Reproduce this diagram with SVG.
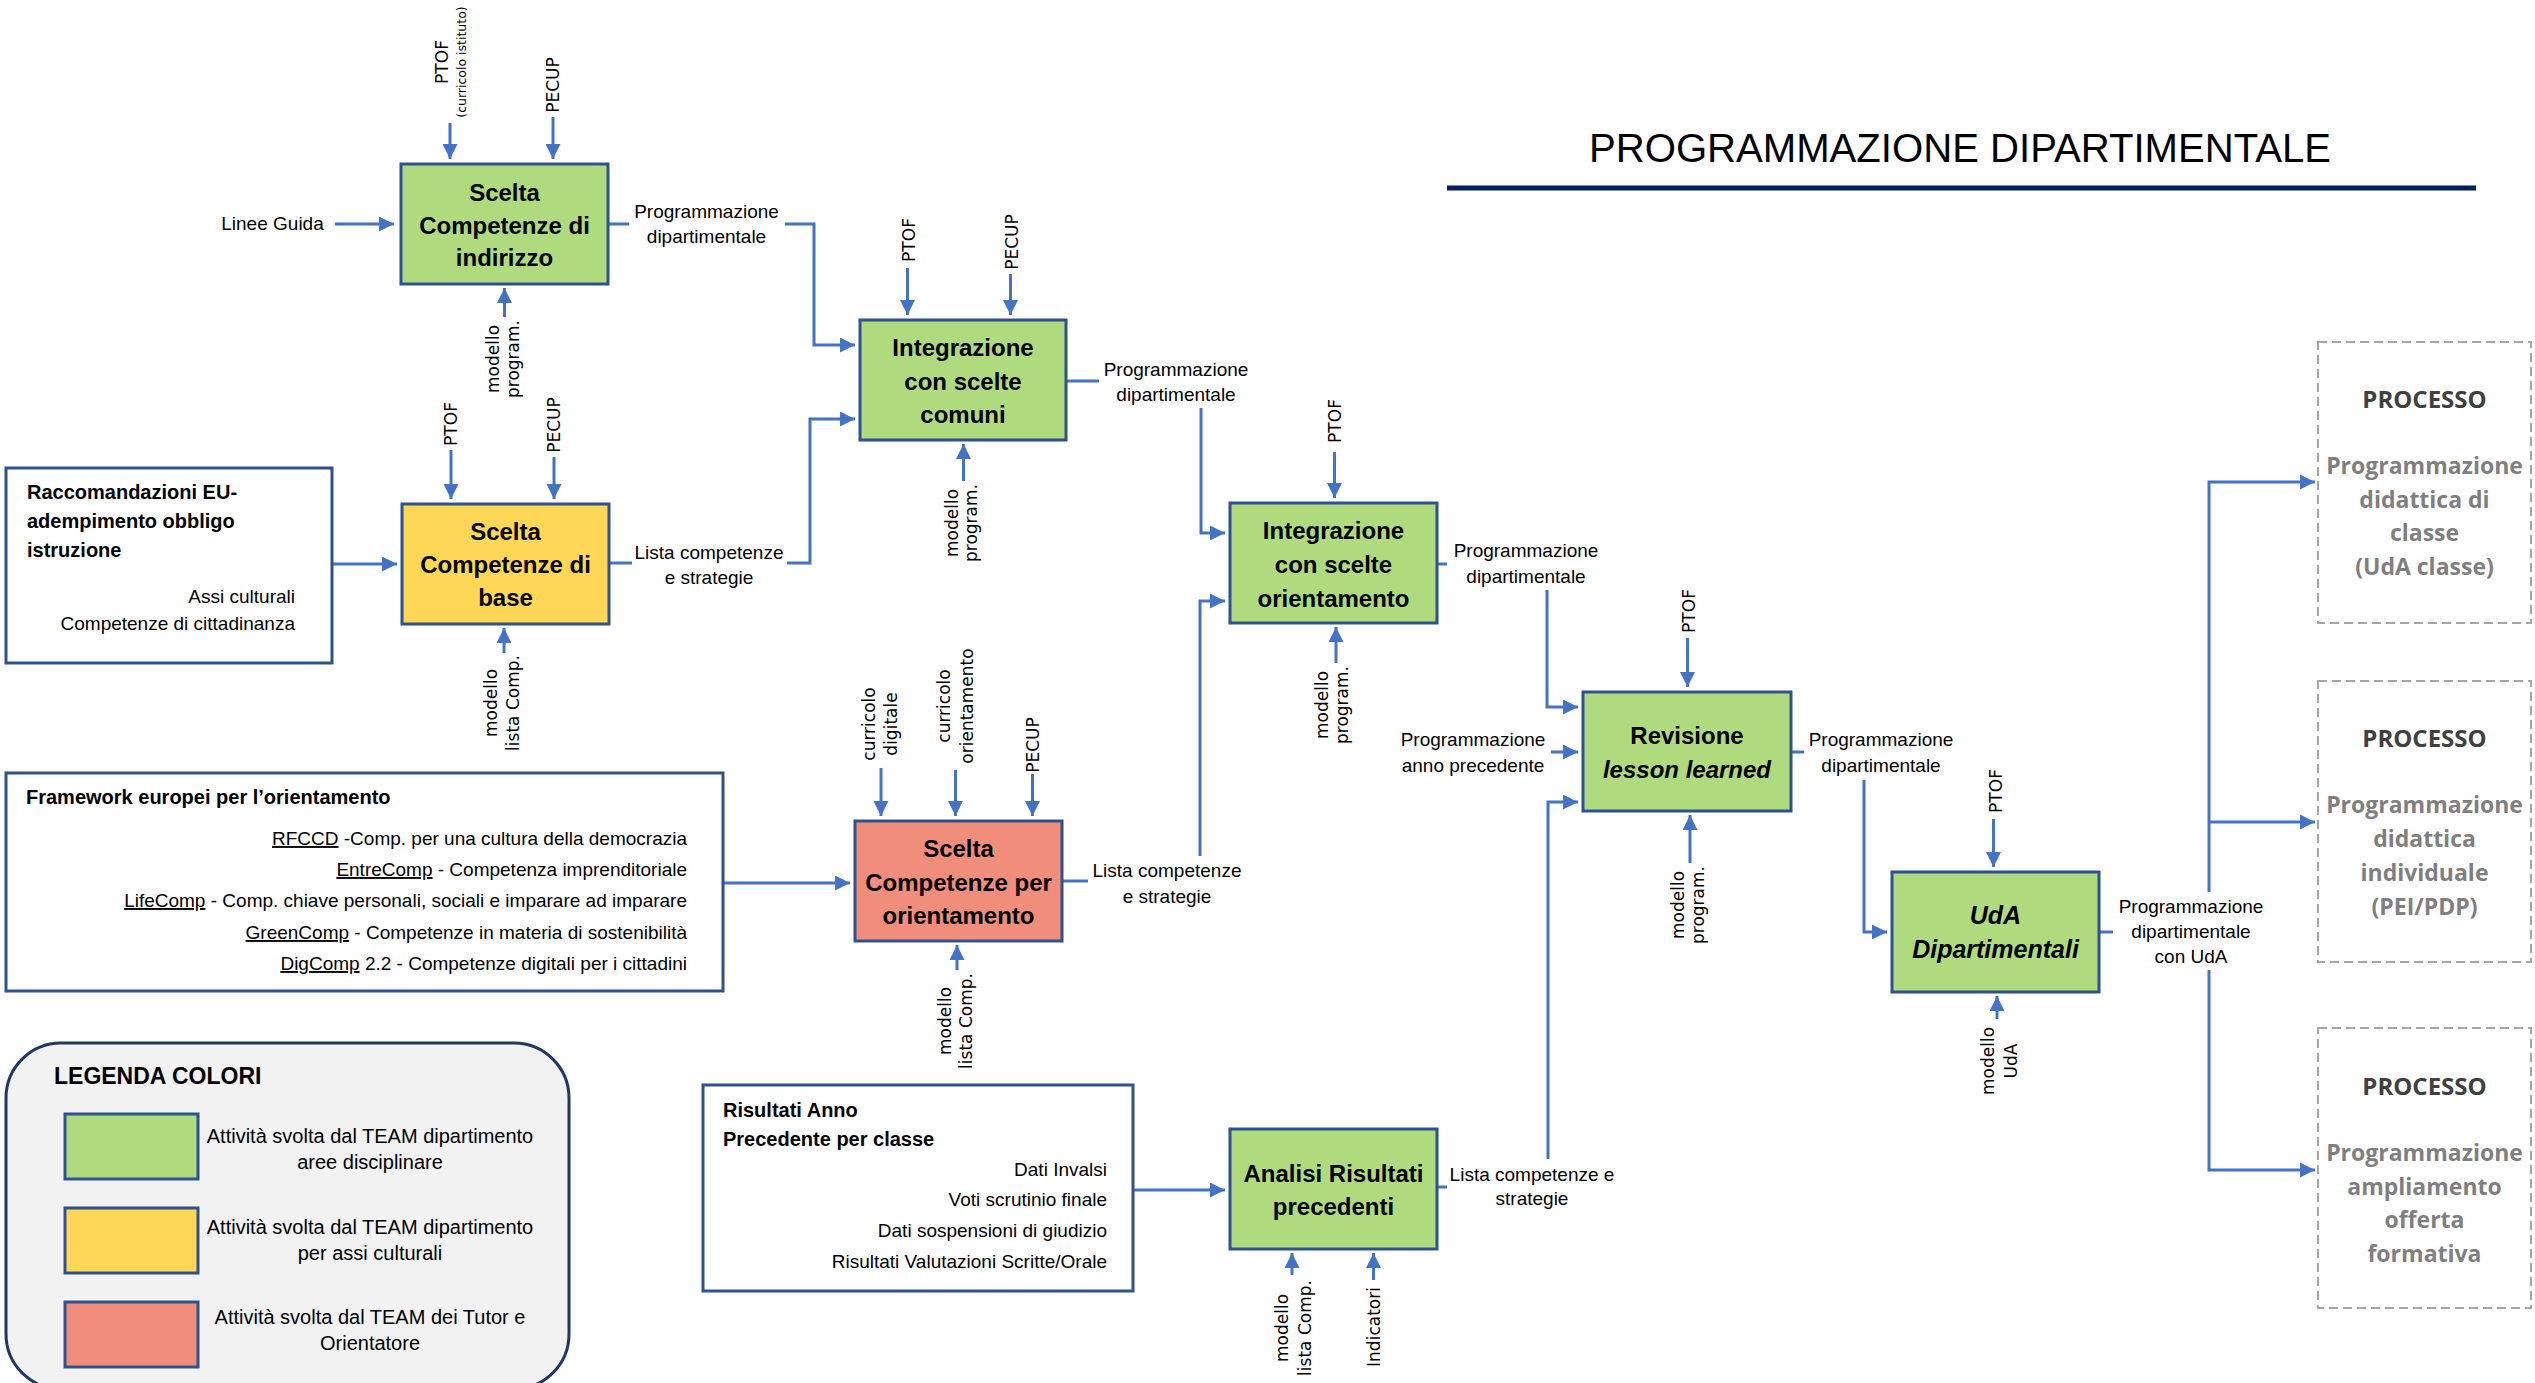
<svg xmlns="http://www.w3.org/2000/svg" width="2535" height="1383" viewBox="0 0 2535 1383">
<style>
.box{stroke:#2F528F;stroke-width:3}
.g{fill:#AFDB7E}.y{fill:#FFD757}.r{fill:#F08D7B}
.frame{fill:#fff;stroke:#2F528F;stroke-width:3}
.t{font-family:"Liberation Sans",Arial,sans-serif;font-weight:bold;font-size:24px;text-anchor:middle;fill:#000}
.it{font-style:italic}
.l{font-family:"Liberation Sans",Arial,sans-serif;font-size:19px;fill:#000}
.lg{font-size:20px}
.m{text-anchor:middle}
.e{text-anchor:end}
.b{font-weight:bold;font-size:20px}
.rot{font-family:"DejaVu Sans",sans-serif;font-size:17px;text-anchor:middle;fill:#000}
.c{stroke:#4472C4;stroke-width:3;fill:none}
.a{marker-end:url(#ah)}
.proc{fill:#fff;stroke:#A5A5A5;stroke-width:2;stroke-dasharray:9 5}
.ph{font-family:"Open Sans","Liberation Sans",sans-serif;font-weight:bold;font-size:24px;fill:#404040;text-anchor:middle}
.pt{font-family:"Open Sans","Liberation Sans",sans-serif;font-weight:bold;font-size:23px;fill:#7F7F7F;text-anchor:middle}
.u{text-decoration:underline}
</style>
<defs>
<marker id="ah" markerUnits="userSpaceOnUse" markerWidth="15" markerHeight="15" refX="15" refY="7.5" orient="auto">
<path d="M0,0 L15,7.5 L0,15 z" fill="#4472C4"/>
</marker>
</defs>
<rect width="2535" height="1383" fill="#fff"/>

<g id="title">
<text x="1589" y="162" font-family="Liberation Sans, Arial, sans-serif" font-size="40" textLength="742" lengthAdjust="spacingAndGlyphs">PROGRAMMAZIONE DIPARTIMENTALE</text>
<line x1="1447" y1="188" x2="2476" y2="188" stroke="#002060" stroke-width="5"/>
</g>

<g id="connectors">
<path class="c a" d="M335,224 H394"/>
<path class="c a" d="M450,123 V159"/>
<path class="c a" d="M553,117 V159"/>
<path class="c a" d="M504.5,317 V288"/>
<path class="c" d="M608,224 H629"/>
<path class="c a" d="M785,224 H814 V345 H855"/>
<path class="c a" d="M451,450 V499"/>
<path class="c a" d="M554,457 V499"/>
<path class="c a" d="M332,564 H397"/>
<path class="c a" d="M504,653 V628"/>
<path class="c" d="M609,563 H632"/>
<path class="c a" d="M787,563 H810 V419 H855"/>
<path class="c a" d="M907.5,268 V315"/>
<path class="c a" d="M1010.5,274 V315"/>
<path class="c a" d="M963.5,481 V444"/>
<path class="c" d="M1066,381 H1099"/>
<path class="c a" d="M1201,408 V533 H1225"/>
<path class="c a" d="M1334.5,452 V498"/>
<path class="c a" d="M1336,663 V627"/>
<path class="c" d="M1437,564 H1447"/>
<path class="c a" d="M1547,590 V707 H1578"/>
<path class="c a" d="M881,768 V816"/>
<path class="c a" d="M955.5,770 V816"/>
<path class="c a" d="M1032.5,774 V816"/>
<path class="c a" d="M723,883 H850"/>
<path class="c a" d="M957,970 V945"/>
<path class="c" d="M1062,881 H1088"/>
<path class="c a" d="M1200,856 V601 H1225"/>
<path class="c a" d="M1133,1190 H1225"/>
<path class="c a" d="M1292,1275 V1253"/>
<path class="c a" d="M1373.5,1280 V1253"/>
<path class="c" d="M1437,1187 H1447"/>
<path class="c a" d="M1548,1159 V802 H1578"/>
<path class="c a" d="M1687.5,638 V687"/>
<path class="c a" d="M1551,752 H1578"/>
<path class="c a" d="M1690,863 V815"/>
<path class="c" d="M1791,752 H1804"/>
<path class="c a" d="M1864,780 V932 H1887"/>
<path class="c a" d="M1993.5,819 V867"/>
<path class="c a" d="M1997,1019 V996"/>
<path class="c" d="M2099,932 H2113"/>
<path class="c a" d="M2209,892 V482 H2315"/>
<path class="c a" d="M2209,822 H2315"/>
<path class="c a" d="M2209,970 V1170 H2315"/>
</g>

<g id="labels">
<text class="l m" x="272.5" y="230">Linee Guida</text>
<text class="l m" x="706.5" y="218">Programmazione</text>
<text class="l m" x="706.5" y="243">dipartimentale</text>
<text class="l m" x="709" y="559">Lista competenze</text>
<text class="l m" x="709" y="584">e strategie</text>
<text class="l m" x="1176" y="376">Programmazione</text>
<text class="l m" x="1176" y="401">dipartimentale</text>
<text class="l m" x="1526" y="557">Programmazione</text>
<text class="l m" x="1526" y="583">dipartimentale</text>
<text class="l m" x="1167" y="877">Lista competenze</text>
<text class="l m" x="1167" y="903">e strategie</text>
<text class="l m" x="1881" y="746">Programmazione</text>
<text class="l m" x="1881" y="772">dipartimentale</text>
<text class="l m" x="1473" y="746">Programmazione</text>
<text class="l m" x="1473" y="772">anno precedente</text>
<text class="l m" x="2191" y="913">Programmazione</text>
<text class="l m" x="2191" y="938">dipartimentale</text>
<text class="l m" x="2191" y="963">con UdA</text>
<text class="l m" x="1532" y="1181">Lista competenze e</text>
<text class="l m" x="1532" y="1205">strategie</text>

<text class="rot" transform="translate(448,62) rotate(-90)">PTOF</text>
<text class="rot" style="font-size:12.5px" transform="translate(466,62) rotate(-90)">(curricolo istituto)</text>
<text class="rot" transform="translate(559,85) rotate(-90)">PECUP</text>
<text class="rot" transform="translate(499,359) rotate(-90)">modello</text>
<text class="rot" transform="translate(519,359) rotate(-90)">program.</text>
<text class="rot" transform="translate(457,424) rotate(-90)">PTOF</text>
<text class="rot" transform="translate(560,425) rotate(-90)">PECUP</text>
<text class="rot" transform="translate(497,703) rotate(-90)">modello</text>
<text class="rot" transform="translate(519,703) rotate(-90)">lista Comp.</text>
<text class="rot" transform="translate(915,240) rotate(-90)">PTOF</text>
<text class="rot" transform="translate(1018,242) rotate(-90)">PECUP</text>
<text class="rot" transform="translate(958,523) rotate(-90)">modello</text>
<text class="rot" transform="translate(977,523) rotate(-90)">program.</text>
<text class="rot" transform="translate(1341,421) rotate(-90)">PTOF</text>
<text class="rot" transform="translate(1328,705) rotate(-90)">modello</text>
<text class="rot" transform="translate(1348,705) rotate(-90)">program.</text>
<text class="rot" transform="translate(875,724) rotate(-90)">curricolo</text>
<text class="rot" transform="translate(897,724) rotate(-90)">digitale</text>
<text class="rot" transform="translate(950,706) rotate(-90)">curricolo</text>
<text class="rot" transform="translate(973,706) rotate(-90)">orientamento</text>
<text class="rot" transform="translate(1039,745) rotate(-90)">PECUP</text>
<text class="rot" transform="translate(951,1021) rotate(-90)">modello</text>
<text class="rot" transform="translate(972,1021) rotate(-90)">lista Comp.</text>
<text class="rot" transform="translate(1695,611) rotate(-90)">PTOF</text>
<text class="rot" transform="translate(1684,905) rotate(-90)">modello</text>
<text class="rot" transform="translate(1704,905) rotate(-90)">program.</text>
<text class="rot" transform="translate(2002,791) rotate(-90)">PTOF</text>
<text class="rot" transform="translate(1994,1061) rotate(-90)">modello</text>
<text class="rot" transform="translate(2017,1061) rotate(-90)">UdA</text>
<text class="rot" transform="translate(1288,1328) rotate(-90)">modello</text>
<text class="rot" transform="translate(1311,1328) rotate(-90)">lista Comp.</text>
<text class="rot" transform="translate(1380,1327) rotate(-90)">Indicatori</text>
</g>

<g id="n-indirizzo">
<rect class="box g" x="401" y="164" width="207" height="120"/>
<text class="t" x="504.5" y="201">Scelta</text>
<text class="t" x="504.5" y="234">Competenze di</text>
<text class="t" x="504.5" y="266">indirizzo</text>
</g>

<g id="n-base">
<rect class="box y" x="402" y="504" width="207" height="120"/>
<text class="t" x="505.5" y="540">Scelta</text>
<text class="t" x="505.5" y="573">Competenze di</text>
<text class="t" x="505.5" y="606">base</text>
</g>

<g id="n-comuni">
<rect class="box g" x="860" y="320" width="206" height="120"/>
<text class="t" x="963" y="356">Integrazione</text>
<text class="t" x="963" y="390">con scelte</text>
<text class="t" x="963" y="423">comuni</text>
</g>

<g id="n-int-orient">
<rect class="box g" x="1230" y="503" width="207" height="120"/>
<text class="t" x="1333.5" y="539">Integrazione</text>
<text class="t" x="1333.5" y="573">con scelte</text>
<text class="t" x="1333.5" y="607">orientamento</text>
</g>

<g id="n-orient">
<rect class="box r" x="855" y="821" width="207" height="120"/>
<text class="t" x="958.5" y="857">Scelta</text>
<text class="t" x="958.5" y="891">Competenze per</text>
<text class="t" x="958.5" y="924">orientamento</text>
</g>

<g id="n-revisione">
<rect class="box g" x="1583" y="692" width="208" height="119"/>
<text class="t" x="1687" y="744">Revisione</text>
<text class="t it" x="1687" y="778">lesson learned</text>
</g>

<g id="n-uda">
<rect class="box g" x="1892" y="872" width="207" height="120"/>
<text class="t it" x="1995.5" y="924" style="font-size:25px">UdA</text>
<text class="t it" x="1995.5" y="958" style="font-size:25px">Dipartimentali</text>
</g>

<g id="n-analisi">
<rect class="box g" x="1230" y="1129" width="207" height="120"/>
<text class="t" x="1333.5" y="1182">Analisi Risultati</text>
<text class="t" x="1333.5" y="1215">precedenti</text>
</g>

<g id="n-raccomandazioni">
<rect class="frame" x="6" y="468" width="326" height="195"/>
<text class="l b" x="27" y="499">Raccomandazioni EU-</text>
<text class="l b" x="27" y="528">adempimento obbligo</text>
<text class="l b" x="27" y="557">istruzione</text>
<text class="l e" x="295" y="603">Assi culturali</text>
<text class="l e" x="295" y="630">Competenze di cittadinanza</text>
</g>

<g id="n-framework">
<rect class="frame" x="6" y="773" width="717" height="218"/>
<text class="l b" x="26" y="804">Framework europei per l’orientamento</text>
<text class="l e" x="687" y="845"><tspan class="u">RFCCD</tspan> -Comp. per una cultura della democrazia</text>
<text class="l e" x="687" y="876"><tspan class="u">EntreComp</tspan> - Competenza imprenditoriale</text>
<text class="l e" x="687" y="907"><tspan class="u">LifeComp</tspan> - Comp. chiave personali, sociali e imparare ad imparare</text>
<text class="l e" x="687" y="939"><tspan class="u">GreenComp</tspan> - Competenze in materia di sostenibilità</text>
<text class="l e" x="687" y="970"><tspan class="u">DigComp</tspan> 2.2 - Competenze digitali per i cittadini</text>
</g>

<g id="n-risultati">
<rect class="frame" x="703" y="1085" width="430" height="206"/>
<text class="l b" x="723" y="1117">Risultati Anno</text>
<text class="l b" x="723" y="1146">Precedente per classe</text>
<text class="l e" x="1107" y="1176">Dati Invalsi</text>
<text class="l e" x="1107" y="1206">Voti scrutinio finale</text>
<text class="l e" x="1107" y="1237">Dati sospensioni di giudizio</text>
<text class="l e" x="1107" y="1268">Risultati Valutazioni Scritte/Orale</text>
</g>

<g id="n-processo1">
<rect class="proc" x="2318" y="342" width="213" height="281"/>
<text class="ph" x="2424.5" y="408">PROCESSO</text>
<text class="pt" x="2424.5" y="474">Programmazione</text>
<text class="pt" x="2424.5" y="508">didattica di</text>
<text class="pt" x="2424.5" y="541">classe</text>
<text class="pt" x="2424.5" y="575">(UdA classe)</text>
</g>

<g id="n-processo2">
<rect class="proc" x="2318" y="681" width="213" height="281"/>
<text class="ph" x="2424.5" y="747">PROCESSO</text>
<text class="pt" x="2424.5" y="813">Programmazione</text>
<text class="pt" x="2424.5" y="847">didattica</text>
<text class="pt" x="2424.5" y="881">individuale</text>
<text class="pt" x="2424.5" y="915">(PEI/PDP)</text>
</g>

<g id="n-processo3">
<rect class="proc" x="2318" y="1028" width="213" height="280"/>
<text class="ph" x="2424.5" y="1095">PROCESSO</text>
<text class="pt" x="2424.5" y="1161">Programmazione</text>
<text class="pt" x="2424.5" y="1195">ampliamento</text>
<text class="pt" x="2424.5" y="1228">offerta</text>
<text class="pt" x="2424.5" y="1262">formativa</text>
</g>

<g id="legend">
<rect x="6" y="1043" width="563" height="346" rx="55" ry="55" fill="#F2F2F2" stroke="#203864" stroke-width="3"/>
<text x="54" y="1084" font-family="Liberation Sans, Arial, sans-serif" font-weight="bold" font-size="23">LEGENDA COLORI</text>
<rect class="box g" x="65" y="1114" width="133" height="65"/>
<rect class="box y" x="65" y="1208" width="133" height="65"/>
<rect class="box r" x="65" y="1302" width="133" height="65"/>
<text class="l lg m" x="370" y="1143">Attività svolta dal TEAM dipartimento</text>
<text class="l lg m" x="370" y="1169">aree disciplinare</text>
<text class="l lg m" x="370" y="1234">Attività svolta dal TEAM dipartimento</text>
<text class="l lg m" x="370" y="1260">per assi culturali</text>
<text class="l lg m" x="370" y="1324">Attività svolta dal TEAM dei Tutor e</text>
<text class="l lg m" x="370" y="1350">Orientatore</text>
</g>
</svg>
